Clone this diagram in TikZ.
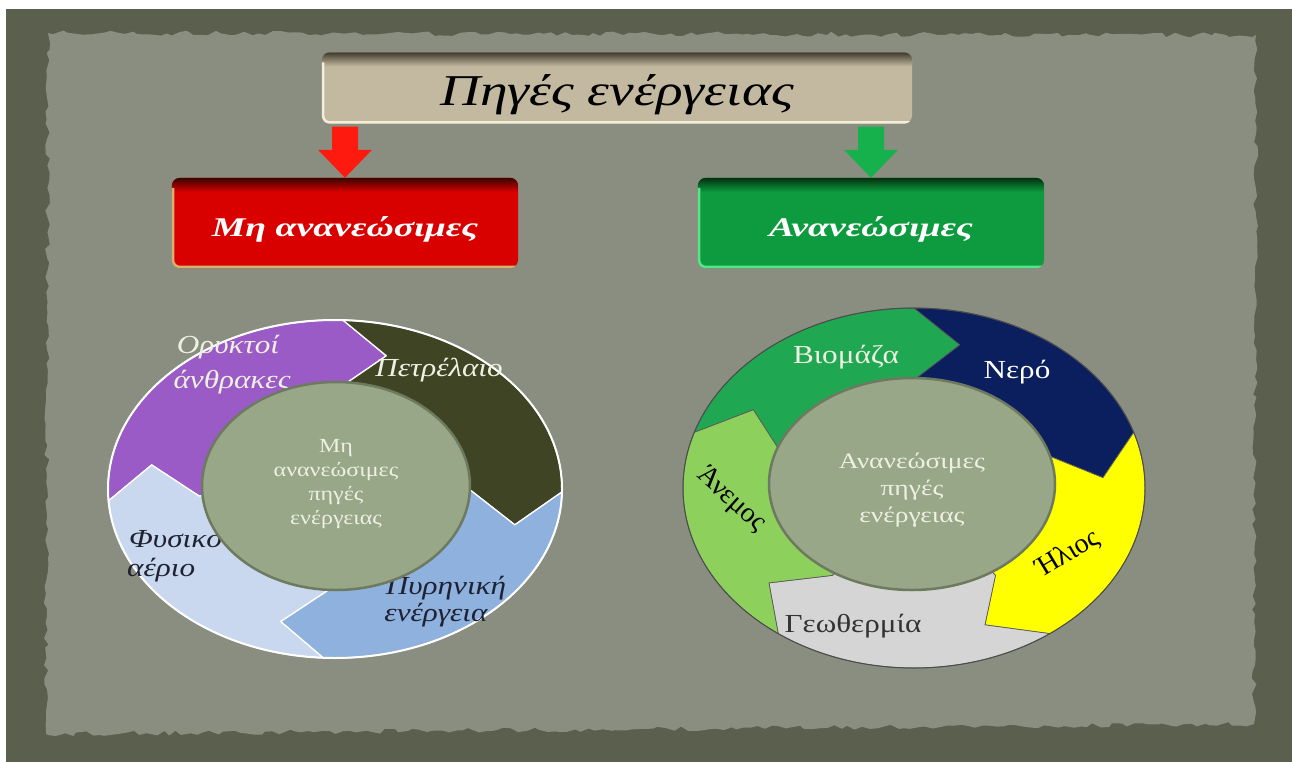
\documentclass[tikz,border=0pt]{standalone}
\usepackage{fontspec}
\setmainfont{Liberation Serif}
\usetikzlibrary{calc,decorations.pathmorphing,shapes.geometric}

\definecolor{framec}{HTML}{5A604D}
\definecolor{panelc}{HTML}{8A8E80}
\definecolor{beigec}{HTML}{C3B9A0}
\definecolor{beigeshadow}{HTML}{3E3A2C}
\definecolor{beigelight}{HTML}{F4EED6}
\definecolor{boxred}{HTML}{D90000}
\definecolor{redshadow}{HTML}{3A0500}
\definecolor{redlight}{HTML}{D8B070}
\definecolor{boxgreen}{HTML}{0E9A3E}
\definecolor{greenshadow}{HTML}{04300F}
\definecolor{greenlight}{HTML}{55E585}
\definecolor{arrred}{HTML}{FF1A10}
\definecolor{arrgreen}{HTML}{16B04C}
\definecolor{purp}{HTML}{9B5BC6}
\definecolor{segolive}{HTML}{3F4425}
\definecolor{segblue}{HTML}{8FB1DD}
\definecolor{segpale}{HTML}{C9D8EE}
\definecolor{innerc}{HTML}{97A788}
\definecolor{innerb}{HTML}{6E7A60}
\definecolor{bio}{HTML}{1FA851}
\definecolor{nero}{HTML}{0B1F5E}
\definecolor{ilios}{HTML}{FFFF00}
\definecolor{geo}{HTML}{D5D5D5}
\definecolor{anemos}{HTML}{8ED05C}
\definecolor{lighttext}{HTML}{EEF0E2}
\definecolor{darktext}{HTML}{1E2232}

\def\segd{14}
\def\segm{0.82}
\def\segi{0.6}
\newcommand\seg[5]{%
  \filldraw[fill=#3, draw=#4, line width=#5, line join=round]
    (#1:1) arc[start angle=#1, end angle=#2, radius=1]
    -- ({#2-\segd}:\segm) -- (#2:\segi) -- (#2:0.2)
    arc[start angle=#2, end angle=#1, radius=0.2]
    -- (#1:\segi) -- ({#1-\segd}:\segm) -- cycle;}

\newcommand\boxfx[4]{%
  \begin{scope}
    \clip[rounded corners=8pt] (#1.north west) rectangle (#1.south east);
    \shade[top color=#3, bottom color=#2] (#1.north west) rectangle ([yshift=-14pt]#1.north east);
    \draw[#4, line width=5pt, rounded corners=8pt]
      ([yshift=-10pt]#1.north west) -- (#1.south west) -- (#1.south east);
  \end{scope}}

\newcommand\blockarrow[3]{%
  \fill[#3] let \p1=(#1), \p2=(#2) in
    (\x1-13pt,\y1) -- (\x1+13pt,\y1) -- (\x1+13pt,\y2+28pt) -- (\x1+27pt,\y2+28pt)
    -- (\x1,\y2) -- (\x1-27pt,\y2+28pt) -- (\x1-13pt,\y2+28pt) -- cycle;}

\begin{document}
\begin{tikzpicture}[x=1pt,y=-1pt,
  boxbase/.style={rounded corners=8pt, inner sep=0pt},
  titlebox/.style={boxbase, minimum width=590pt, minimum height=71pt, fill=beigec},
  catbox/.style={boxbase, minimum width=346pt, minimum height=90pt},
  titletext/.style={font=\fontsize{44}{52}\selectfont\itshape, text=black, xscale=1.26, inner sep=0pt},
  cattext/.style={font=\fontsize{27}{32}\selectfont\bfseries\itshape, text=white, xscale=1.4, inner sep=0pt},
  llabel/.style={font=\fontsize{26}{30}\selectfont\itshape, xscale=1.2, inner sep=0pt},
  rlabel/.style={font=\fontsize{26}{30}\selectfont, xscale=1.2, inner sep=0pt},
  rotlabel/.style={font=\fontsize{28}{32}\selectfont, inner sep=0pt},
  core/.style={ellipse, draw=innerb, line width=2.5pt, fill=innerc, inner sep=0pt},
  coretext/.style={align=center, text=lighttext, inner sep=0pt}]
\useasboundingbox (0,0) rectangle (1292,762);
\fill[white] (0,0) rectangle (1292,762);
\fill[framec] (6,9) rectangle (1292,762);
\fill[panelc, decorate, decoration={random steps, segment length=7pt, amplitude=2.5pt}]
  (48,33) -- (1256,35) -- (1254,724) -- (46,734) -- cycle;

% boxes
\node[titlebox] (title) at (617,88) {};
\boxfx{title}{beigec}{beigeshadow}{beigelight}
\node[catbox, fill=boxred] (nonren) at (345,223) {};
\boxfx{nonren}{boxred}{redshadow}{redlight}
\node[catbox, fill=boxgreen] (ren) at (871,223) {};
\boxfx{ren}{boxgreen}{greenshadow}{greenlight}

\node[titletext] (titlet) at ([yshift=-7pt]title.center) {Πηγές ενέργειας};
\node[cattext] (nonrent) at ([yshift=-6pt]nonren.center) {Μη ανανεώσιμες};
\node[cattext] (rent) at ([yshift=-6pt]ren.center) {Ανανεώσιμες};

% arrows
\blockarrow{$(title.south -| nonren.north)+(0,3)$}{nonren.north}{arrred}
\blockarrow{$(title.south -| ren.north)+(0,3)$}{ren.north}{arrgreen}

% left cycle
\begin{scope}[shift={(335,489)}, x=227pt, y=169pt]
  \foreach \s/\e/\c in {184/88/purp, 88/-1/segolive, -1/-93/segblue, -93/-176/segpale}
    {\seg{\s}{\e}{\c}{white}{1.3pt}}
  \draw[white, line width=2pt] (0,0) ellipse [x radius=1, y radius=1];
\end{scope}

% right cycle
\begin{scope}[shift={(914,488)}, x=231pt, y=180pt]
  \foreach \s/\e/\c in {162/90/bio, 90/18/nero, 18/-54/ilios, -54/-126/geo, -126/-198/anemos}
    {\seg{\s}{\e}{\c}{black!65}{0.7pt}}
  \draw[black!70, line width=1pt] (0,0) ellipse [x radius=1, y radius=1];
\end{scope}

% left labels
\node[llabel, text=lighttext] (l1a) at (228,347) {Ορυκτοί};
\node[llabel, text=lighttext] (l1b) at (232,382) {άνθρακες};
\node[llabel, text=lighttext] (l2) at (439,370) {Πετρέλαιο};
\node[llabel, text=darktext] (l3a) at (446,588) {Πυρηνική};
\node[llabel, text=darktext] (l3b) at (436,615) {ενέργεια};
\node[llabel, text=darktext, anchor=west] (l4a) at (129,538) {Φυσικό};
\node[llabel, text=darktext, anchor=west] (l4b) at (127,570) {αέριο};

% right labels
\node[rlabel, text=lighttext] (r1) at (846,357) {Βιομάζα};
\node[rlabel, text=white] (r2) at (1017,372) {Νερό};
\node[rotlabel, rotate=31, text=black] (r3) at (1068,554) {Ήλιος};
\node[rlabel, text=black!80] (r4) at (853,626) {Γεωθερμία};
\node[rotlabel, rotate=-42, text=black] (r5) at (731,500) {Άνεμος};

% cores
\node[core, minimum width=268pt, minimum height=208pt] (lcore) at (336,486) {};
\node[coretext, font=\fontsize{20}{24}\selectfont, xscale=1.2] (lcoret) at (336,484)
  {Μη\\ανανεώσιμες\\πηγές\\ενέργειας};
\node[core, minimum width=286pt, minimum height=212pt] (rcore) at (912,484) {};
\node[coretext, font=\fontsize{22}{27}\selectfont, xscale=1.25] (rcoret) at (912,490)
  {Ανανεώσιμες\\πηγές\\ενέργειας};
\end{tikzpicture}
\end{document}
